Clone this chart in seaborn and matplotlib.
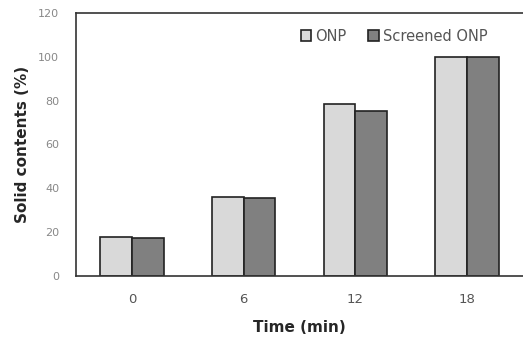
import pandas as pd
import matplotlib.pyplot as plt
import seaborn as sns

# values
times = ['0', '6', '12', '18']
onp = [17.8, 36.0, 78.5, 100.0]
screened_onp = [17.2, 35.4, 75.3, 100.0]

df = pd.DataFrame({
    'Time': times * 2,
    'Solid': onp + screened_onp,
    'Sample': ['ONP'] * 4 + ['Screened ONP'] * 4,
})

sns.set_style('white')
plt.rcParams['font.family'] = ['DejaVu Sans']

fig = plt.figure(figsize=(5.23, 3.39), dpi=100)
ax = fig.add_axes([0.1453, 0.186, 0.8547, 0.776])

sns.barplot(data=df, x='Time', y='Solid', hue='Sample', order=times,
            palette=['#d9d9d9', '#808080'], width=0.57,
            edgecolor='#222222', linewidth=1.2, ax=ax)

ax.set_ylim(0, 120)
ax.set_xlim(-0.5, 3.5)
ax.set_yticks(range(0, 121, 20))
ax.tick_params(axis='y', labelsize=8, colors='#888888', length=0, pad=12)
ax.tick_params(axis='x', labelsize=9.5, colors='#555555', length=0, pad=12)

for s in ax.spines.values():
    s.set_color('#333333')
    s.set_linewidth(1.2)
ax.spines['right'].set_visible(False)

ax.set_xlabel('Time (min)', fontsize=11, fontweight='bold', labelpad=10)
ax.set_ylabel('Solid contents (%)', fontsize=11, fontweight='bold', labelpad=6)

leg = ax.legend(loc='upper right', bbox_to_anchor=(0.95, 0.99), ncol=2, frameon=False,
                fontsize=10.5, handlelength=0.7, handleheight=0.7,
                handletextpad=0.3, columnspacing=1.5)
for t in leg.get_texts():
    t.set_color('#555555')

fig.savefig('out.png', dpi=100)
